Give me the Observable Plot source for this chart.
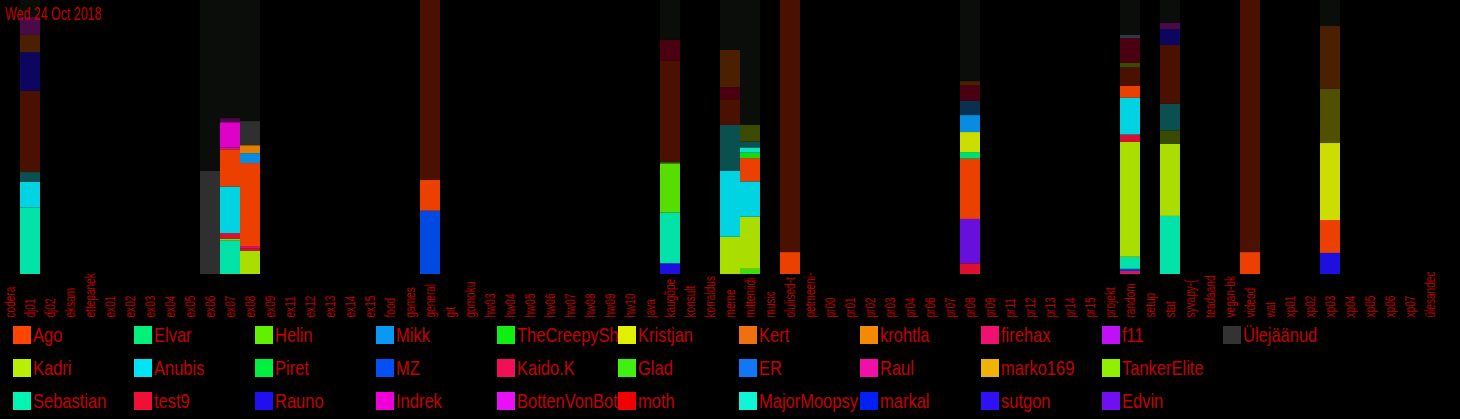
<!DOCTYPE html>
<html><head><meta charset="utf-8">
<script src="https://cdn.jsdelivr.net/npm/d3@7"></script>
<script src="https://cdn.jsdelivr.net/npm/@observablehq/plot@0.6"></script>
<style>
html,body{margin:0;padding:0;background:#000;}
body{width:1460px;height:419px;overflow:hidden;position:relative;font-family:"Liberation Sans",Arial,sans-serif;}
#chart svg{display:block;}
#title{position:absolute;left:5px;top:4.7px;font-size:18px;line-height:18px;color:#c40000;white-space:nowrap;transform:scaleX(0.69);transform-origin:0 50%;}
#legend{display:grid;grid-template-rows:repeat(3,32.7px);grid-auto-flow:column;grid-auto-columns:121px;padding-left:13px;}
.item{display:flex;align-items:center;overflow:hidden;white-space:nowrap;color:#c40000;font-size:21px;}
.sw{width:18px;height:18px;flex:none;margin-right:2px;}
.item span{flex:none;display:inline-block;transform:scaleX(0.785);transform-origin:0 50%;}
</style></head><body><div id="chart"></div><div id="legend"></div><div id="title"></div>
<script>
const title = "Wed 24 Oct 2018";

const channels = ["codera","dj01","dj02","eksam","ettepanek","ex01","ex02","ex03","ex04","ex05","ex06","ex07","ex08","ex09","ex11","ex12","ex13","ex14","ex15","food","games","general","git","gomoku","hw03","hw04","hw05","hw06","hw07","hw08","hw09","hw10","java","kaugõpe","konsult","korraldus","meme","mitteniidi","music","olulised-t","petmeeni-","pr00","pr01","pr02","pr03","pr04","pr06","pr07","pr08","pr09","pr11","pr12","pr13","pr14","pr15","projekt","random","setup","stat","syvapy-{","teadaand","vegan-bk","videod","wat","xp01","xp02","xp03","xp04","xp05","xp06","xp07","ülesandec"];

// legend users (column-major order as shown)
const users = ["Ago","Kadri","Sebastian","Elvar","Anubis","test9","Helin","Piret","Rauno","Mikk","MZ","Indrek","TheCreepySh","Kaido.K","BottenVonBot","Kristjan","Glad","moth","Kert","ER","MajorMoopsy","krohtla","Raul","markal","firehax","marko169","sutgon","f11","TankerElite","Edvin","Ülejäänud"];
const userColors = ["#ff4500","#b8f000","#00f5b5","#00f07a","#00e5f5","#f01035","#60f000","#00f040","#2010f0","#0898f5","#0050f5","#f000d8","#10f010","#f0105a","#e810f5","#e0f000","#40f010","#f00000","#f07010","#1078f5","#10f5d5","#f58a00","#f010a8","#0020f5","#f01070","#f0b400","#3010f5","#c010f5","#90f000","#7010f0","#333333"];

// other (unlabelled) series seen in the bars
const otherSeries = ["maroon","navy","brown","plum","teal","wine","darkolive","olive","navyteal","slate","rest"];
const otherColors = ["#501100","#0d0668","#502300","#500b50","#0b5757","#500012","#3f5000","#575700","#0b3457","#343d4e","#0b0e0b"];

// bars: share of messages per channel (percent), bottom to top
const dj01 = [["Sebastian",24.3],["Anubis",9.3],["teal",3.6],["maroon",29.7],["navy",14.0],["brown",6.4],["plum",6.6],["rest",6.1]];
const ex06 = [["Ülejäänud",37.6],["rest",62.4]];
const ex07 = [["Sebastian",12.2],["TankerElite",0.7],["test9",2.0],["Anubis",17.0],["Ago",13.6],["Raul",0.7],["Indrek",9.2],["plum",1.5],["rest",43.1]];
const ex08 = [["Kadri",8.5],["test9",0.9],["firehax",0.8],["Ago",30.3],["Mikk",3.6],["krohtla",2.9],["Ülejäänud",8.8],["rest",44.2]];
const general = [["MZ",23.1],["Ago",11.2],["maroon",65.7]];
const kaugope = [["Rauno",3.9],["Sebastian",18.5],["Helin",18.0],["darkolive",0.6],["maroon",36.8],["wine",7.7],["rest",14.5]];
const meme = [["Kadri",13.6],["Anubis",24.0],["teal",16.8],["maroon",9.4],["wine",4.4],["brown",13.6],["rest",18.2]];
const mitteniidi = [["Glad",1.9],["Kadri",19.0],["Anubis",12.9],["Ago",8.5],["TheCreepySh",2.0],["MajorMoopsy",1.9],["teal",2.1],["darkolive",6.2],["rest",45.5]];
const olulised = [["Ago",8.0],["maroon",92.0]];
const pr08 = [["test9",3.9],["Edvin",16.2],["Ago",22.0],["Elvar",2.4],["Kristjan",7.3],["Mikk",6.2],["navyteal",5.2],["wine",5.7],["brown",1.5],["rest",29.6]];
const random = [["firehax",1.2],["MZ",0.7],["Sebastian",4.4],["Kadri",41.9],["test9",2.7],["Anubis",13.4],["Ago",4.4],["maroon",6.7],["darkolive",1.7],["wine",9.0],["slate",1.2],["rest",12.7]];
const stat = [["Sebastian",21.2],["Kadri",26.3],["darkolive",4.9],["teal",9.7],["maroon",21.5],["navy",5.7],["plum",2.3],["rest",8.4]];
const videod = [["Ago",8.0],["maroon",92.0]];
const xp03 = [["Rauno",7.7],["Ago",12.0],["Kristjan",28.1],["olive",19.8],["brown",22.9],["rest",9.5]];

const bars = [["dj01",dj01],["ex06",ex06],["ex07",ex07],["ex08",ex08],["general",general],["kaugõpe",kaugope],["meme",meme],["mitteniidi",mitteniidi],["olulised-t",olulised],["pr08",pr08],["random",random],["stat",stat],["videod",videod],["xp03",xp03]];

const rows = bars.flatMap(([channel, segs]) => segs.map(([user, value]) => ({channel, user, value})));

const chart = Plot.plot({
  width: 1460, height: 319,
  marginTop: 0, marginLeft: 0, marginRight: 20, marginBottom: 45,
  style: {background: "#000", color: "#b80000", fontFamily: '"Liberation Sans", Arial, sans-serif', overflow: "visible"},
  x: {domain: channels, padding: 0, label: null},
  y: {axis: null},
  color: {domain: users.concat(otherSeries), range: userColors.concat(otherColors)},
  marks: [
    Plot.barY(rows, Plot.stackY({offset: "normalize", x: "channel", y: "value", fill: "user", fillOpacity: 0.92})),
    Plot.axisX({tickSize: 0, tickRotate: -90, textAnchor: "start", tickPadding: 43, fontSize: 14, label: null})
  ]
});
// condense the axis labels along their reading direction (narrow face)
d3.select(chart).selectAll('g[aria-label="x-axis tick label"] text').attr("transform", function () {
  return (this.getAttribute("transform") || "") + " scale(0.72,1)";
});
document.getElementById("chart").appendChild(chart);
document.getElementById("title").textContent = title;

const color = chart.scale("color");
const legend = d3.select("#legend");
users.forEach(u => {
  const it = legend.append("div").attr("class", "item");
  it.append("div").attr("class", "sw").style("background", color.apply(u));
  it.append("span").text(u);
});
</script></body></html>
